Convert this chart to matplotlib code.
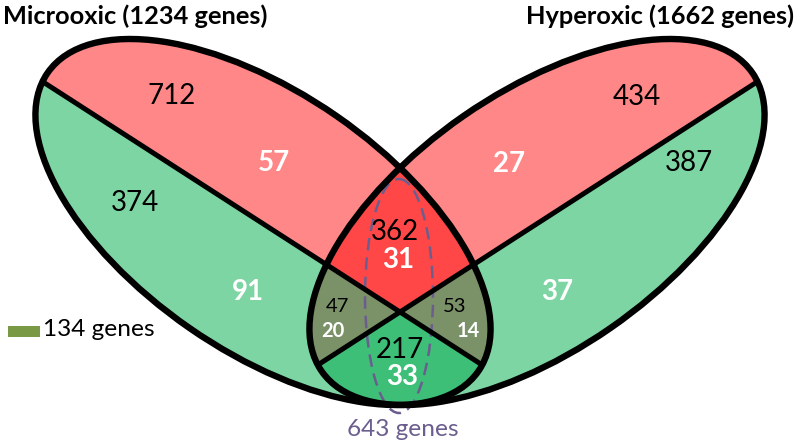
import numpy as np
import matplotlib.pyplot as plt
from matplotlib.patches import Ellipse, Polygon, Rectangle

plt.rcParams['font.family'] = ['Lato', 'DejaVu Sans']

# set titles
set_names = ['Microoxic (1234 genes)', 'Hyperoxic (1662 genes)']

# regions: outer left (up/down), outer right (up/down), core (up/left/right/down)
regions = ['left_up', 'left_down', 'right_up', 'right_down',
           'core_up', 'core_left', 'core_right', 'core_down']
black_counts = [712, 374, 434, 387, 362, 47, 53, 217]
white_counts = [57, 91, 27, 37, 31, 20, 14, 33]

legend_label = '134 genes'
core_label = '643 genes'

# layout (pixels, y down)
W, H = 797, 445
black_pos = [(172, 96), (135, 203), (637, 97), (689, 163),
             (395, 232), (337, 306), (455, 306), (400, 350)]
white_pos = [(274, 163), (248, 292), (509, 164), (557, 292),
             (398, 260), (333, 331), (468, 331), (402, 377)]
small = ['core_left', 'core_right']

c_light_red = '#ff8787'
c_light_green = '#7dd5a3'
c_core_red = '#ff4747'
c_olive = '#7b9268'
c_core_green = '#3dbf78'
c_swatch = '#7a9944'
c_purple = '#6b5e8e'

# ellipse geometry
axis_x = 400
a, b, ang = 262, 129, 34.7
cl = (263, 222)
cr = (2 * axis_x - cl[0], cl[1])
div_ang = 32.8
c0 = np.array([400.0, 312.0])


def ell_pts(c, ang, n=1440):
    t = np.linspace(0, 2 * np.pi, n, endpoint=False)
    th = np.radians(ang)
    x, y = a * np.cos(t), b * np.sin(t)
    return np.column_stack([c[0] + x * np.cos(th) - y * np.sin(th),
                            c[1] + x * np.sin(th) + y * np.cos(th)])


def inside(p, c, ang):
    th = np.radians(ang)
    dx, dy = p[:, 0] - c[0], p[:, 1] - c[1]
    xr = dx * np.cos(th) + dy * np.sin(th)
    yr = -dx * np.sin(th) + dy * np.cos(th)
    return (xr / a) ** 2 + (yr / b) ** 2 <= 1.0


fig = plt.figure(figsize=(W / 100, H / 100), dpi=100)
ax = fig.add_axes([0, 0, 1, 1])
ax.set_xlim(0, W)
ax.set_ylim(H, 0)
ax.axis('off')

K = 3000
th = np.radians(div_ang)
d1 = np.array([np.cos(th), np.sin(th)])     # left divider, down-right
d2 = np.array([-np.cos(th), np.sin(th)])    # right divider, down-left
up = np.array([0, -K])
dn = np.array([0, K])

e_left = Ellipse(cl, 2 * a, 2 * b, angle=ang, fc='none', ec='none')
e_right = Ellipse(cr, 2 * a, 2 * b, angle=-ang, fc='none', ec='none')
ax.add_patch(e_left)
ax.add_patch(e_right)

halves = [
    (e_left, [c0 - K * d1, c0 + K * d1, c0 + K * d1 + up, c0 - K * d1 + up], c_light_red),
    (e_left, [c0 - K * d1, c0 + K * d1, c0 + K * d1 + dn, c0 - K * d1 + dn], c_light_green),
    (e_right, [c0 - K * d2, c0 + K * d2, c0 + K * d2 + up, c0 - K * d2 + up], c_light_red),
    (e_right, [c0 - K * d2, c0 + K * d2, c0 + K * d2 + dn, c0 - K * d2 + dn], c_light_green),
]
for clip, pts, col in halves:
    p = Polygon(pts, closed=True, fc=col, ec='none', zorder=1)
    ax.add_patch(p)
    p.set_clip_path(clip)

# lens (intersection of both ellipses)
p1 = ell_pts(cl, ang)
p2 = ell_pts(cr, -ang)
lens = np.vstack([p1[inside(p1, cr, -ang)], p2[inside(p2, cl, ang)]])
m = lens.mean(axis=0)
lens = lens[np.argsort(np.arctan2(lens[:, 1] - m[1], lens[:, 0] - m[0]))]
lens_patch = Polygon(lens, closed=True, fc='none', ec='none')
ax.add_patch(lens_patch)

wedges = [
    ([c0, c0 - K * d1, c0 - K * d2], c_core_red),
    ([c0, c0 - K * d1, c0 + K * d2], c_olive),
    ([c0, c0 - K * d2, c0 + K * d1], c_olive),
    ([c0, c0 + K * d2, c0 + K * d1], c_core_green),
]
for pts, col in wedges:
    p = Polygon(pts, closed=True, fc=col, ec='none', zorder=2)
    ax.add_patch(p)
    p.set_clip_path(lens_patch)

# dashed outline of the shared core
ax.add_patch(Ellipse((399, 296), 68, 234, fc='none', ec=c_purple,
                     lw=1.8, ls=(0, (5, 2.8)), zorder=3))

# divider lines
for d, clip in [(d1, e_left), (d2, e_right)]:
    ln, = ax.plot([c0[0] - K * d[0], c0[0] + K * d[0]],
                  [c0[1] - K * d[1], c0[1] + K * d[1]],
                  color='black', lw=3.6, zorder=4, solid_capstyle='butt')
    ln.set_clip_path(clip)

# outlines
for c, sg in [(cl, 1), (cr, -1)]:
    ax.add_patch(Ellipse(c, 2 * a, 2 * b, angle=sg * ang, fc='none',
                         ec='black', lw=4.6, zorder=5))

# numbers
for r, n, (x, y) in zip(regions, black_counts, black_pos):
    ax.text(x, y, str(n), fontsize=14.5 if r in small else 20, color='black',
            ha='center', va='center', zorder=6)
for r, n, (x, y) in zip(regions, white_counts, white_pos):
    ax.text(x, y, str(n), fontsize=14.5 if r in small else 20, color='white',
            fontweight='bold', ha='center', va='center', zorder=6)

# titles
ax.text(3, 16, set_names[0], fontsize=18.3, fontweight='bold', ha='left', va='center')
ax.text(794, 16, set_names[1], fontsize=18.3, fontweight='bold', ha='right', va='center')

# legend swatch
ax.add_patch(Rectangle((8, 326), 32, 11, fc=c_swatch, ec='none'))
ax.text(43, 330, legend_label, fontsize=17.6, ha='left', va='center')

ax.text(403, 429, core_label, fontsize=17.6, color=c_purple, ha='center', va='center')

fig.savefig('out.png', dpi=100)
